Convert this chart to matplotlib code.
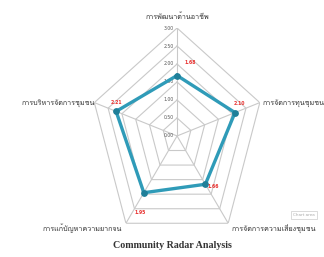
import numpy as np
import matplotlib
matplotlib.use("Agg")
import matplotlib.pyplot as plt
from matplotlib import font_manager
from matplotlib.ft2font import FT2Font

categories = [
    "การพัฒนาด้านอาชีพ",
    "การจัดการทุนชุมชน",
    "การจัดการความเสี่ยงชุมชน",
    "การแก้ปัญหาความยากจน",
    "การบริหารจัดการชุมชน",
]
scores = [1.68, 2.10, 1.66, 1.95, 2.21]
score_labels = ["1.68", "2.10", "1.66", "1.95", "2.21"]
grid_levels = [0.5, 1.0, 1.5, 2.0, 2.5, 3.0]
tick_values = [0.0, 0.5, 1.0, 1.5, 2.0, 2.5, 3.0]


def find_thai_font():
    names = []
    for f in font_manager.fontManager.ttflist:
        try:
            if ord("ก") in FT2Font(f.fname).get_charmap():
                names.append(f.name)
        except Exception:
            pass
    return names


thai = find_thai_font()
label_family = thai[:1] + ["DejaVu Sans"]

fig = plt.figure(figsize=(3.24, 2.57), dpi=100)
ax = fig.add_axes([0.278, 0.051, 0.537, 0.840], projection="polar")
ax.set_aspect("auto")
ax.set_theta_offset(np.pi / 2)
ax.set_theta_direction(-1)

n = len(categories)
angles = np.linspace(0, 2 * np.pi, n, endpoint=False)
closed = np.append(angles, angles[0])

ax.grid(False)
ax.spines["polar"].set_visible(False)
ax.set_xticks([])
ax.set_yticks([])
ax.set_ylim(0, 3)

for lv in grid_levels:
    ax.plot(closed, [lv] * (n + 1), color="#c9c9c9", lw=0.8, zorder=1)
for a in angles:
    ax.plot([a, a], [0, 3], color="#c9c9c9", lw=0.8, zorder=1)

for t in tick_values:
    ax.annotate(f"{t:.2f}", (0, t), xytext=(-3, 0), textcoords="offset pixels",
                ha="right", va="center", fontsize=3.3, color="#555555")

vals = scores + scores[:1]
ax.plot(closed, vals, color="#2f9bb8", lw=2.4, zorder=3)
ax.scatter(angles, scores, s=15, color="#1f7f99", zorder=4)

offsets = [(13, 13), (4, 9), (8, -2), (-4, -20), (0, 9)]
for a, v, lab, off in zip(angles, scores, score_labels, offsets):
    ax.annotate(lab, (a, v), xytext=off, textcoords="offset pixels",
                ha="center", va="center", fontsize=3.3, color="#e8302e",
                fontweight="bold", zorder=5)

label_pos = [(177, 17, "center"), (263, 103, "left"), (232, 228, "left"),
             (122, 228, "right"), (95, 103, "right")]
for cat, (px, py, ha) in zip(categories, label_pos):
    fig.text(px / 324, 1 - py / 257, cat, ha=ha, va="center", fontsize=5.2,
             color="#333333", family=label_family)

fig.text(293 / 324, 1 - 215 / 257, "Chart area", ha="left", va="center",
         fontsize=3, color="#aaaaaa",
         bbox=dict(facecolor="white", edgecolor="#cccccc", lw=0.5, pad=1.5))

fig.text(172 / 324, 1 - 246 / 257, "Community Radar Analysis", ha="center",
         va="center", fontsize=7.2, fontweight="bold", color="#333333",
         family="Liberation Serif")

fig.savefig("out.png", dpi=100)
